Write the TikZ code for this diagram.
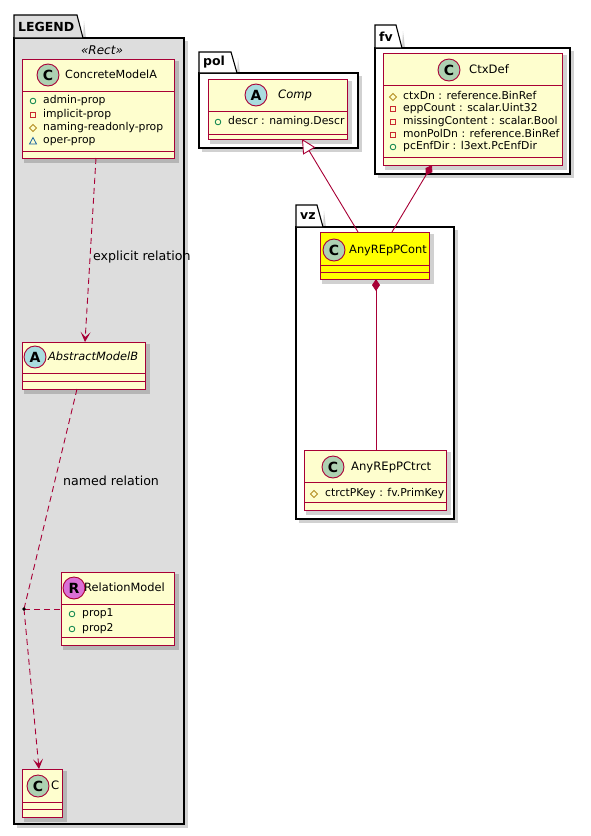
\documentclass[tikz,border=0pt]{standalone}
\usepackage{fontspec}
\setmainfont{DejaVu Sans}
\usetikzlibrary{arrows.meta,fit,calc}
\definecolor{clsfill}{HTML}{FEFECE}
\definecolor{clsborder}{HTML}{A80036}
\definecolor{spotc}{HTML}{ADD1B2}
\definecolor{spota}{HTML}{A9DCDF}
\definecolor{spotr}{HTML}{DA70D6}
\definecolor{legendgray}{HTML}{DDDDDD}
\definecolor{pubc}{HTML}{038048}
\definecolor{privc}{HTML}{C82930}
\definecolor{protc}{HTML}{B38D22}
\definecolor{pkgc}{HTML}{1963A0}
\definecolor{hilite}{HTML}{FFFF00}
\tikzset{
 shad/.style={fill=black, opacity=0.18},
 clsbox/.style={draw=clsborder, line width=1pt, inner sep=0pt, outer sep=0pt},
 clsline/.style={draw=clsborder, line width=1pt},
 pkgline/.style={draw=black, line width=1.1pt},
 spot/.style={circle, draw=clsborder, line width=0.9pt, minimum size=22pt, inner sep=0pt, font=\fontsize{14}{14}\bfseries\selectfont},
 clsname/.style={font=\fontsize{11.6}{13}\selectfont, inner sep=0pt, anchor=west, text height=8.6pt, text depth=2.4pt},
 attr/.style={font=\fontsize{10.8}{12}\selectfont, inner sep=0pt, anchor=west, text height=7.8pt, text depth=2.2pt},
 pkglabel/.style={font=\fontsize{12.5}{14}\bfseries\selectfont, inner sep=0pt, anchor=west},
 rel/.style={draw=clsborder, line width=0.9pt},
 dashrel/.style={rel, dash pattern=on 6pt off 4pt},
 reltext/.style={font=\fontsize{12.6}{14}\selectfont, inner sep=0pt, anchor=west},
 opentip/.style={-{Stealth[length=10pt,width=10pt,inset=5pt]}},
}
\newcommand\umlclass[8]{%
 \fill[shad] ({#2+2},{#3+2}) rectangle ({#4+5},{#5+5});
 \node[clsbox, fill=#8, fit={(#2,#3) (#4,#5)}] (#1) {};
 \draw[clsline] (#2,#6) -- (#4,#6);
 \draw[clsline] (#2,#7) -- (#4,#7);
}
\newcommand\umlpkg[9]{%
 \fill[shad] ({#2+3},{#5+3}) rectangle ({#6+4},{#7+4});
 \fill[shad] ({#4+1},{#3+6}) -- ({#4+3},{#5}) -- ({#4},{#5}) -- cycle;
 \node[draw=black, line width=1.1pt, fill=#8, fit={(#2,#5) (#6,#7)}, inner sep=0pt] (#1) {};
 \filldraw[pkgline, fill=#8] (#2,#5) -- (#2,#3) -- ({#4-6},#3) -- (#4,#5) -- cycle;
 \node[pkglabel] at ({#2+4},{(#3+#5)/2}) {#9};
}
\newcommand\vpub[2]{\draw[pubc, line width=0.8pt] (#1,#2) circle (2.8pt);}
\newcommand\vpriv[2]{\draw[privc, line width=0.8pt] ({#1-2.8},{#2-2.8}) rectangle ({#1+2.8},{#2+2.8});}
\newcommand\vprot[2]{\draw[protc, line width=0.8pt] ({#1-3.5},#2) -- (#1,{#2-3.5}) -- ({#1+3.5},#2) -- (#1,{#2+3.5}) -- cycle;}
\newcommand\vpkg[2]{\draw[pkgc, line width=0.8pt] ({#1-3.5},{#2+3}) -- ({#1+3.5},{#2+3}) -- (#1,{#2-3.5}) -- cycle;}
\begin{document}
\begin{tikzpicture}[x=1pt,y=-1pt]
\fill[white] (0,0) rectangle (590,836);
\useasboundingbox (0,0) rectangle (590,836);
% LEGEND package
\umlpkg{legend}{14}{15}{83}{38}{184}{824}{legendgray}{LEGEND}
\node[font=\fontsize{12}{14}\itshape\selectfont, inner sep=0pt] (stereo) at (102,50) {«Rect»};
% ConcreteModelA
\umlclass{cma}{22}{59}{174}{158}{91}{151}{clsfill}
\node[spot, fill=spotc] (cmaspot) at (48,75) {C};
\node[clsname, font=\fontsize{11.2}{13}\selectfont] (cmaname) at (65,75) {ConcreteModelA};
\vpub{33}{101}\node[attr] (cmaa1) at (43,101) {admin-prop};
\vpriv{33}{115}\node[attr] (cmaa2) at (43,115) {implicit-prop};
\vprot{33}{128}\node[attr] (cmaa3) at (43,128) {naming-readonly-prop};
\vpkg{33}{141}\node[attr] (cmaa4) at (43,141) {oper-prop};
% AbstractModelB
\umlclass{amb}{22}{342}{145}{389}{373}{381}{clsfill}
\node[spot, fill=spota] (ambspot) at (35,357) {A};
\node[clsname, font=\fontsize{11.4}{13}\itshape\selectfont] (ambname) at (48,357) {AbstractModelB};
% RelationModel
\umlclass{rm}{61}{572}{174}{645}{604}{637}{clsfill}
\node[spot, fill=spotr] (rmspot) at (74,588) {R};
\node[clsname, font=\fontsize{11.4}{13}\selectfont] (rmname) at (84,588) {RelationModel};
\vpub{72}{614}\node[attr] (rma1) at (82,614) {prop1};
\vpub{72}{629}\node[attr] (rma2) at (82,629) {prop2};
% C
\umlclass{cls}{22}{769}{62}{817}{802}{809}{clsfill}
\node[spot, fill=spotc] (clsspot) at (38,786) {C};
\node[clsname] (clsname) at (51,786) {C};
% pol package
\umlpkg{pol}{199}{52}{237}{73}{358}{148}{white}{pol}
\umlclass{comp}{208}{79}{347}{139}{111}{134}{clsfill}
\node[spot, fill=spota] (compspot) at (256,95) {A};
\node[clsname, font=\fontsize{11.6}{13}\itshape\selectfont] (compname) at (278,95) {Comp};
\vpub{218}{122}\node[attr] (compa1) at (228,122) {descr : naming.Descr};
% fv package
\umlpkg{fv}{375}{25}{402}{48}{570}{174}{white}{fv}
\umlclass{ctx}{383}{53}{562}{165}{85}{157}{clsfill}
\node[spot, fill=spotc] (ctxspot) at (449,70) {C};
\node[clsname] (ctxname) at (469,70) {CtxDef};
\vprot{393}{97}\node[attr] (ctxa1) at (403,97) {ctxDn : reference.BinRef};
\vpriv{393}{109}\node[attr] (ctxa2) at (403,109) {eppCount : scalar.Uint32};
\vpriv{393}{122}\node[attr] (ctxa3) at (403,122) {missingContent : scalar.Bool};
\vpriv{393}{135}\node[attr] (ctxa4) at (403,135) {monPolDn : reference.BinRef};
\vpub{393}{147}\node[attr] (ctxa5) at (403,147) {pcEnfDir : l3ext.PcEnfDir};
% vz package
\umlpkg{vz}{296}{205}{323}{227}{454}{519}{white}{vz}
\umlclass{cont}{320}{232}{429}{279}{265}{272}{hilite}
\node[spot, fill=spotc] (contspot) at (334,250) {C};
\node[clsname, font=\fontsize{11.4}{13}\selectfont] (contname) at (349,250) {AnyREpPCont};
\umlclass{ctrct}{304}{450}{446}{510}{482}{502}{clsfill}
\node[spot, fill=spotc] (ctrctspot) at (333,467) {C};
\node[clsname] (ctrctname) at (351,467) {AnyREpPCtrct};
\vprot{314}{494}\node[attr] (ctrcta1) at (325,494) {ctrctPKey : fv.PrimKey};
% relations
\draw[dashrel, opentip] ([xshift=-2pt]cma.south) -- ([xshift=1.5pt]amb.north);
\node[reltext] (lbl1) at (93,257) {explicit relation};
\coordinate (dot) at (24,609);
\draw[dashrel] ([xshift=-6.5pt]amb.south) -- (dot);
\draw[dashrel, opentip] (dot) -- ([xshift=-3pt]cls.north);
\draw[dashrel] (dot) -- (rm.west |- dot);
\fill[black] (dot) circle (1.8pt);
\node[reltext] (lbl2) at (63,481) {named relation};
\draw[rel, {Triangle[length=14pt,width=14pt,fill=white]}-] ([xshift=24.5pt]comp.south) -- ([xshift=-16.5pt]cont.north);
\draw[rel, {Diamond[length=12pt,width=8pt]}-] ([xshift=-40.5pt]ctx.south) -- ([xshift=17.5pt]cont.north);
\draw[rel, {Diamond[length=12pt,width=8pt]}-] ([xshift=1.5pt]cont.south) -- ([xshift=1pt]ctrct.north);
\end{tikzpicture}
\end{document}
